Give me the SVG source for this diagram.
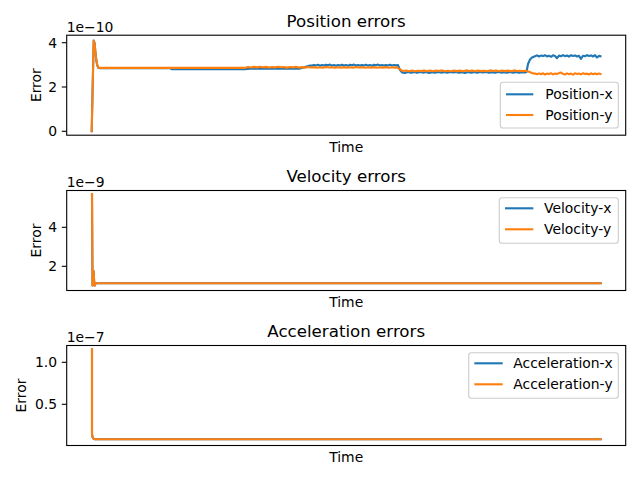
<svg xmlns="http://www.w3.org/2000/svg" width="640" height="480" viewBox="0 0 640 480">
<style>
text{font-family:"DejaVu Sans","Liberation Sans",sans-serif;fill:#000}
.tick{font-size:13.9px;text-anchor:end}
.title{font-size:16.67px;text-anchor:middle}
.lab{font-size:13.9px;text-anchor:middle}
.off{font-size:13.9px}
.leg{font-size:13.9px}
.ax{fill:none;stroke:#000;stroke-width:1.1}
.tk{stroke:#000;stroke-width:1.1}
.frame{fill:#fff;fill-opacity:0.8;stroke:#ccc;stroke-width:1.1}
.bl{fill:none;stroke:#1f77b4;stroke-width:2.1;stroke-linejoin:round;stroke-linecap:square}
.or{fill:none;stroke:#ff7f0e;stroke-width:2.1;stroke-linejoin:round;stroke-linecap:square}
</style>
<rect width="640" height="480" fill="#fff"/>
<g id="connectors">
<polyline class="bl" points="91.7,131.3 92.7,85 93.7,40.5 94.6,43 95.4,52 96.3,60 97.2,65 98.3,67.8 100,68.3 170,68.3 172,69.2 245,69.2 250,68.6 300,68.6 305,67 310,65.5 312,65.6 314,64.9 316,65.4 318,64.8 320,65.7 322,65.0 324,65.5 326,64.7 328,65.3 330,64.6 332,65.6 334,65.1 336,65.8 338,64.9 340,65.4 342,64.7 344,65.5 346,65.0 348,65.7 350,64.8 352,65.3 354,64.6 356,65.5 358,65.0 360,65.6 362,64.9 364,65.4 366,64.7 368,65.6 370,65.1 372,65.7 374,64.8 376,65.3 378,64.6 380,65.5 382,65.0 384,65.6 386,64.9 388,65.4 390,64.7 392,65.5 394,65.0 396,65.4 398,65.1 400,70 402,72.4 405,72.9 408,72.0 411,72.7 414,72.1 417,72.8 420,71.9 423,72.6 426,72.0 429,72.9 432,72.2 435,72.7 438,71.9 441,72.6 444,72.1 447,72.8 450,72.0 453,72.5 456,71.9 459,72.7 462,72.2 465,72.9 468,72.0 471,72.6 474,72.1 477,72.8 480,71.9 483,72.5 486,72.0 489,72.7 492,72.2 495,72.8 498,71.9 501,72.6 504,72.1 507,72.7 510,72.0 513,72.6 516,72.1 519,72.8 522,72.2 525,72.4 526.5,72.0 528,64 530,59.5 532,57.5 535,56.2 537,55.4 539,56.5 541,55.6 543,56.1 545,55.2 547,56.4 549,55.7 551,56.8 553,55.3 555,56.0 557,58.2 559,55.6 561,56.3 563,55.1 565,56.2 567,55.5 569,56.6 571,55.2 573,56.0 575,55.4 577,56.5 579,55.8 581,58.8 583,55.7 585,56.3 587,55.1 589,56.0 591,55.4 593,56.5 595,55.2 597,57.5 599,55.9 600.5,56.2"/>
<polyline class="or" points="91.7,131.3 92.7,85 93.7,40.5 94.6,43 95.4,52 96.3,60 97.2,65 98.3,67.4 100,67.9 245,67.9 248,67.0 251,67.5 254,66.9 257,67.4 260,66.8 263,67.3 266,66.9 269,67.5 272,67.0 275,67.4 278,66.8 281,67.3 284,67.0 287,67.6 290,67.0 293,67.4 296,66.9 299,67.5 302,67.1 305,67.6 308,67.0 311,67.5 314,67.1 317,67.7 320,67.2 323,67.6 326,67.0 329,67.5 332,67.1 335,67.7 338,67.2 341,67.6 344,67.1 347,67.7 350,67.2 353,67.6 356,67.0 359,67.5 362,67.1 365,67.7 368,67.2 371,67.6 374,67.1 377,67.7 380,67.2 383,67.6 386,67.1 389,67.7 392,67.2 395,67.6 397,67.4 400,69.5 403,71.0 406,70.5 409,71.2 412,70.6 415,71.3 418,70.7 421,71.1 424,70.4 427,71.2 430,70.6 433,71.3 436,70.5 439,71.0 442,70.4 445,71.2 448,70.7 451,71.3 454,70.5 457,71.1 460,70.6 463,71.2 466,70.4 469,71.0 472,70.6 475,71.3 478,70.5 481,71.1 484,70.7 487,71.2 490,70.4 493,71.0 496,70.6 499,71.3 502,70.5 505,71.1 508,70.6 511,71.2 514,70.4 517,71.0 520,70.7 523,71.1 526,70.8 529,71.8 532,73.0 535,73.6 537,74.3 539,73.4 541,74.2 543,73.3 545,74.5 547,73.6 549,74.1 551,73.2 553,74.4 555,73.5 557,74.0 559,73.1 561,72.6 563,73.9 565,74.5 567,73.4 569,74.2 571,73.6 573,74.6 575,73.3 577,74.1 579,73.5 581,74.4 583,73.2 585,74.0 587,73.6 589,74.5 591,73.3 593,74.2 595,73.5 597,74.3 599,73.6 600.5,74.0"/>
<polyline class="bl" points="92,194 92.5,285.5 93.2,284 93.6,271 94.2,282 94.8,285.5 95.8,283.2 97,283.2 600.7,283.2"/>
<polyline class="or" points="92,194 92.5,285.5 93.2,284 93.6,271 94.2,282 94.8,285.5 95.8,283.2 97,283.2 600.7,283.2"/>
<polyline class="bl" points="92,349.3 92,434 92.5,437 93.5,438.8 95,439.3 600.7,439.3"/>
<polyline class="or" points="92,349.3 92,434 92.5,437 93.5,438.8 95,439.3 600.7,439.3"/>
</g>
<g id="position-axes">
<rect class="ax" x="66.7" y="35.2" width="559" height="100"/>
<line class="tk" x1="61.8" y1="131.3" x2="66.7" y2="131.3"/>
<line class="tk" x1="61.8" y1="87" x2="66.7" y2="87"/>
<line class="tk" x1="61.8" y1="42.7" x2="66.7" y2="42.7"/>
<text class="tick" x="57" y="136.3">0</text>
<text class="tick" x="57" y="92">2</text>
<text class="tick" x="57" y="47.7">4</text>
<text class="off" x="66.7" y="31.5">1e−10</text>
<text class="title" x="346.2" y="26.9">Position errors</text>
<text class="lab" x="346.2" y="151.6">Time</text>
<text class="lab" transform="translate(40.5,85.2) rotate(-90)">Error</text>
</g>
<g id="position-legend">
<rect class="frame" x="500.3" y="82.3" width="118" height="45.7" rx="2.8"/>
<line class="bl" x1="506" y1="94.3" x2="533.3" y2="94.3" style="stroke-linecap:butt"/>
<line class="or" x1="506" y1="115" x2="533.3" y2="115" style="stroke-linecap:butt"/>
<text class="leg" x="545.3" y="99.3">Position-x</text>
<text class="leg" x="545.3" y="120">Position-y</text>
</g>
<g id="velocity-axes">
<rect class="ax" x="66.7" y="190.5" width="559" height="100"/>
<line class="tk" x1="61.8" y1="266.3" x2="66.7" y2="266.3"/>
<line class="tk" x1="61.8" y1="227.3" x2="66.7" y2="227.3"/>
<text class="tick" x="57" y="271.3">2</text>
<text class="tick" x="57" y="232.3">4</text>
<text class="off" x="66.7" y="186.5">1e−9</text>
<text class="title" x="346.2" y="182.2">Velocity errors</text>
<text class="lab" x="346.2" y="306.9">Time</text>
<text class="lab" transform="translate(40.5,240.5) rotate(-90)">Error</text>
</g>
<g id="velocity-legend">
<rect class="frame" x="499.3" y="197.7" width="119" height="45.6" rx="2.8"/>
<line class="bl" x1="505" y1="208.3" x2="533.3" y2="208.3" style="stroke-linecap:butt"/>
<line class="or" x1="505" y1="229.3" x2="533.3" y2="229.3" style="stroke-linecap:butt"/>
<text class="leg" x="544" y="213.3">Velocity-x</text>
<text class="leg" x="544" y="234.3">Velocity-y</text>
</g>
<g id="acceleration-axes">
<rect class="ax" x="66.7" y="345.5" width="559" height="100"/>
<line class="tk" x1="61.8" y1="404.3" x2="66.7" y2="404.3"/>
<line class="tk" x1="61.8" y1="362.3" x2="66.7" y2="362.3"/>
<text class="tick" x="57" y="409.3">0.5</text>
<text class="tick" x="57" y="367.3">1.0</text>
<text class="off" x="66.7" y="341.7">1e−7</text>
<text class="title" x="346.2" y="337.2">Acceleration errors</text>
<text class="lab" x="346.2" y="461.9">Time</text>
<text class="lab" transform="translate(26.3,395.5) rotate(-90)">Error</text>
</g>
<g id="acceleration-legend">
<rect class="frame" x="468.7" y="352.7" width="149.6" height="45.6" rx="2.8"/>
<line class="bl" x1="474.3" y1="363.3" x2="502.7" y2="363.3" style="stroke-linecap:butt"/>
<line class="or" x1="474.3" y1="384.3" x2="502.7" y2="384.3" style="stroke-linecap:butt"/>
<text class="leg" x="513.3" y="368.3">Acceleration-x</text>
<text class="leg" x="513.3" y="389.3">Acceleration-y</text>
</g>
</svg>
